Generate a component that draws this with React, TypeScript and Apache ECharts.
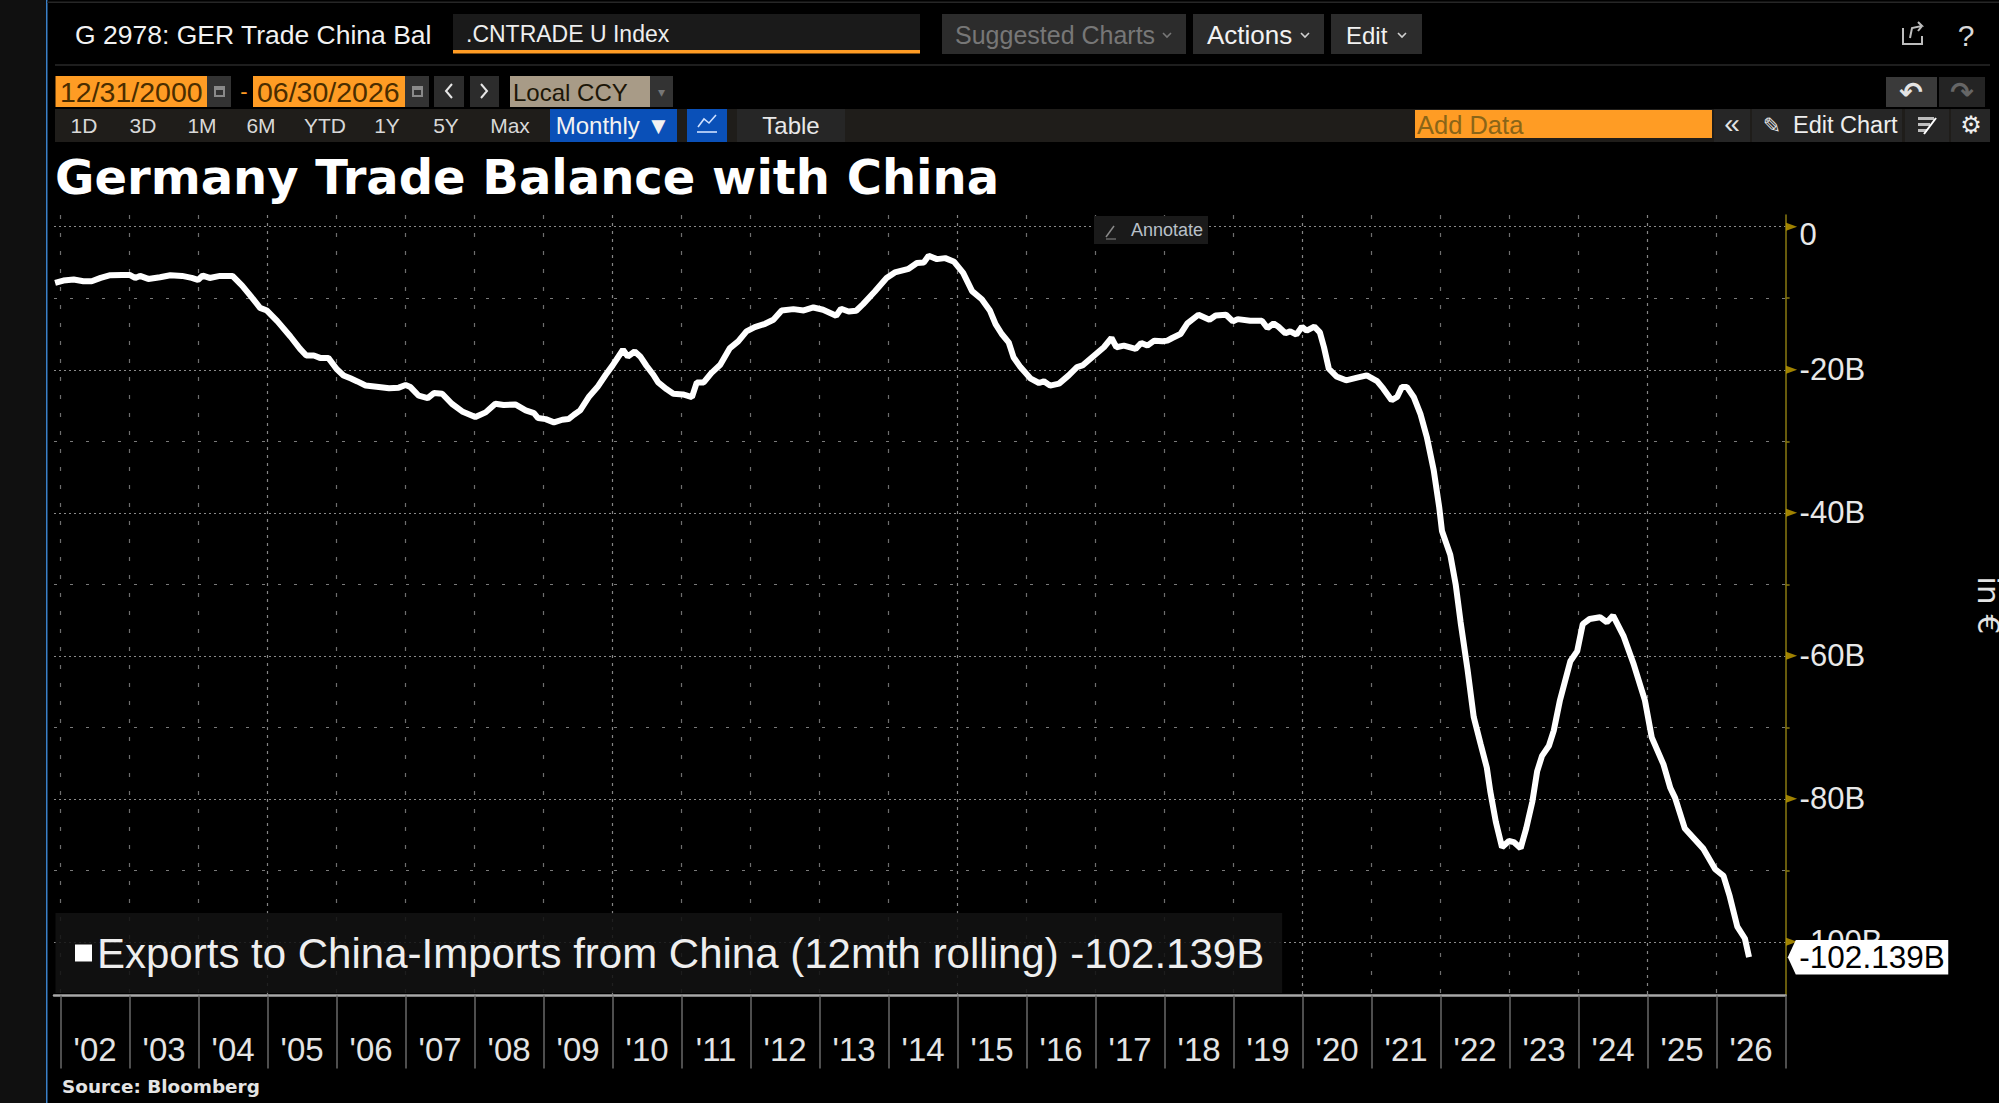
import React, { useEffect, useRef } from "react";
import * as echarts from "echarts";

const seriesName = "Exports to China-Imports from China (12mth rolling)";
const lastLabel = "-102.139B";

const years = [
  2001.92, 2002.04, 2002.19, 2002.33, 2002.45, 2002.58, 2002.72, 2002.89, 2003.0, 2003.08, 2003.15, 2003.27,
  2003.44, 2003.59, 2003.76, 2003.9, 2003.99, 2004.06, 2004.16, 2004.31, 2004.49, 2004.63, 2004.75, 2004.89,
  2004.99, 2005.14, 2005.33, 2005.47, 2005.56, 2005.67, 2005.76, 2005.88, 2006.0, 2006.1, 2006.2, 2006.3,
  2006.42, 2006.61, 2006.76, 2006.9, 2007.0, 2007.07, 2007.19, 2007.32, 2007.41, 2007.53, 2007.67, 2007.82,
  2008.01, 2008.16, 2008.3, 2008.42, 2008.59, 2008.74, 2008.86, 2008.92, 2009.03, 2009.15, 2009.27, 2009.36,
  2009.44, 2009.53, 2009.66, 2009.78, 2009.9, 2010.0, 2010.15, 2010.22, 2010.32, 2010.4, 2010.49, 2010.59,
  2010.66, 2010.78, 2010.88, 2011.02, 2011.15, 2011.22, 2011.32, 2011.43, 2011.56, 2011.7, 2011.82, 2011.94,
  2012.06, 2012.21, 2012.33, 2012.45, 2012.62, 2012.77, 2012.91, 2013.05, 2013.24, 2013.31, 2013.42, 2013.53,
  2013.63, 2013.8, 2013.97, 2014.09, 2014.29, 2014.41, 2014.51, 2014.58, 2014.7, 2014.82, 2014.95, 2015.08,
  2015.21, 2015.35, 2015.47, 2015.55, 2015.64, 2015.74, 2015.81, 2015.91, 2016.06, 2016.18, 2016.25, 2016.34,
  2016.47, 2016.61, 2016.73, 2016.81, 2016.95, 2017.12, 2017.23, 2017.3, 2017.41, 2017.58, 2017.66, 2017.75,
  2017.85, 2017.97, 2018.04, 2018.11, 2018.23, 2018.33, 2018.49, 2018.65, 2018.74, 2018.89, 2018.99, 2019.06,
  2019.24, 2019.41, 2019.49, 2019.58, 2019.65, 2019.75, 2019.82, 2019.91, 2019.99, 2020.06, 2020.17, 2020.25,
  2020.31, 2020.38, 2020.49, 2020.63, 2020.79, 2020.93, 2021.08, 2021.17, 2021.29, 2021.37, 2021.44, 2021.51,
  2021.61, 2021.71, 2021.8, 2021.9, 2021.98, 2022.02, 2022.14, 2022.22, 2022.29, 2022.39, 2022.48, 2022.58,
  2022.67, 2022.72, 2022.8, 2022.89, 2022.99, 2023.06, 2023.16, 2023.24, 2023.33, 2023.4, 2023.47, 2023.57,
  2023.64, 2023.73, 2023.88, 2023.98, 2024.06, 2024.16, 2024.31, 2024.41, 2024.5, 2024.65, 2024.8, 2024.96,
  2025.06, 2025.23, 2025.33, 2025.4, 2025.54, 2025.81, 2025.98, 2026.1, 2026.19, 2026.3, 2026.41, 2026.47,
];

const balance = [
  -7.86, -7.53, -7.39, -7.62, -7.62, -7.16, -6.78, -6.74, -6.74, -7.16, -6.88, -7.3,
  -7.06, -6.78, -6.88, -7.16, -7.44, -6.83, -7.16, -6.88, -6.88, -8.23, -9.63, -11.35,
  -11.72, -13.2, -15.35, -17.08, -18.0, -18.0, -18.34, -18.34, -19.9, -20.8, -21.2, -21.63,
  -22.2, -22.42, -22.6, -22.5, -22.14, -22.42, -23.63, -23.96, -23.26, -23.35, -24.75, -25.82,
  -26.62, -25.96, -24.75, -24.94, -24.85, -25.68, -26.06, -26.76, -26.9, -27.36, -26.99, -26.9,
  -26.29, -25.68, -23.73, -22.42, -20.7, -19.39, -17.2, -18.14, -17.44, -18.14, -19.44, -20.7,
  -21.77, -22.7, -23.36, -23.45, -23.82, -21.77, -21.77, -20.47, -19.3, -16.97, -16.04, -14.64,
  -14.04, -13.57, -13.0, -11.7, -11.52, -11.7, -11.29, -11.61, -12.45, -11.47, -11.85, -11.75,
  -10.82, -9.05, -7.18, -6.39, -5.88, -5.08, -4.99, -4.06, -4.53, -4.39, -4.9, -6.45,
  -9.0, -10.14, -11.76, -13.61, -15.0, -16.16, -18.24, -19.63, -21.25, -21.85, -21.62, -22.22,
  -21.94, -20.79, -19.63, -19.4, -18.24, -16.85, -15.56, -16.85, -16.62, -17.08, -16.25, -16.62,
  -15.93, -16.02, -15.93, -15.56, -15.0, -13.52, -12.31, -13.01, -12.41, -12.31, -13.24, -12.92,
  -13.15, -13.15, -14.17, -13.52, -13.98, -14.9, -14.63, -15.09, -13.98, -14.54, -13.98, -14.77,
  -16.85, -19.86, -20.93, -21.48, -21.11, -20.79, -21.58, -22.64, -24.26, -23.8, -22.4, -22.4,
  -23.8, -26.25, -29.4, -34.04, -39.24, -42.55, -45.86, -50.1, -55.3, -61.9, -68.56, -72.34,
  -75.65, -78.96, -83.2, -86.76, -85.9, -86.05, -86.9, -84.16, -80.38, -76.12, -74.0, -72.58,
  -70.45, -66.2, -60.76, -59.34, -55.56, -54.85, -54.6, -55.3, -54.37, -57.2, -61.23, -66.19,
  -71.4, -75.18, -78.49, -79.9, -84.16, -87.0, -89.84, -90.78, -93.62, -97.87, -99.53, -102.139,
];

const yearTicks = [2002, 2003, 2004, 2005, 2006, 2007, 2008, 2009, 2010, 2011, 2012, 2013, 2014, 2015, 2016, 2017, 2018, 2019, 2020, 2021, 2022, 2023, 2024, 2025, 2026, 2027];
const yearLabels = [2002.5, 2003.5, 2004.5, 2005.5, 2006.5, 2007.5, 2008.5, 2009.5, 2010.5, 2011.5, 2012.5, 2013.5, 2014.5, 2015.5, 2016.5, 2017.5, 2018.5, 2019.5, 2020.5, 2021.5, 2022.5, 2023.5, 2024.5, 2025.5, 2026.5];
const fiveYearTicks = [2005, 2010, 2015, 2020, 2025];
const minorYearTicks = [2002, 2003, 2004, 2006, 2007, 2008, 2009, 2011, 2012, 2013, 2014, 2016, 2017, 2018, 2019, 2021, 2022, 2023, 2024, 2026];
const yMajor = [-100, -80, -60, -40, -20, 0];
const yMinor = [-90, -70, -50, -30, -10];

const SANS = '"Liberation Sans", Arial, sans-serif';
const ORANGE = "#ff9c24";

const rect = (x: number, y: number, w: number, h: number, fill: string, z = 1) => ({
  type: "rect", z, silent: true, shape: { x, y, width: w, height: h }, style: { fill },
});
const txt = (x: number, y: number, text: string, size: number, fill: string, align = "left", extra: any = {}, z = 5) => ({
  type: "text", z, silent: true, x, y,
  style: { text, fill, font: `${extra.weight || "normal"} ${size}px ${extra.family || SANS}`, textAlign: align, textVerticalAlign: "middle" },
});
const poly = (points: number[][], stroke: string, lineWidth = 1.5, z = 6) => ({
  type: "polyline", z, silent: true, shape: { points }, style: { stroke, lineWidth, fill: "none" },
});
const chevron = (cx: number, cy: number, c: string) => poly([[cx - 4, cy - 2], [cx, cy + 2], [cx + 4, cy - 2]], c, 1.6);

const calendar = (x: number) => [
  rect(x, 76, 24, 31, "#333333", 2),
  rect(x + 7, 86, 11, 11, "#8a8a8a", 3),
  rect(x + 9, 90, 7, 5, "#333333", 4),
];

const uiGraphics: any[] = [
  rect(0, 0, 46, 1103, "#101010", 0),
  rect(46, 0, 1.5, 1103, "#3a80c8", 1),
  rect(47, 1.5, 1952, 1.5, "#262626", 1),
  rect(55, 64, 1935, 2, "#1e1e1e", 1),
  txt(75, 35, "G 2978: GER Trade China Bal", 26.5, "#f2f2f2"),
  rect(453, 14, 467, 36, "#1a1a1a"),
  rect(453, 50, 467, 3.5, ORANGE),
  txt(466, 34, ".CNTRADE U Index", 23, "#eeeeee"),
  rect(942, 14, 244, 40, "#2c2c2c"),
  txt(955, 35, "Suggested Charts", 25, "#777777"),
  chevron(1167, 35, "#777777"),
  rect(1193, 14, 131, 40, "#2c2c2c"),
  txt(1207, 35, "Actions", 26, "#f2f2f2"),
  chevron(1305, 35, "#d0d0d0"),
  rect(1331, 14, 91, 40, "#2c2c2c"),
  txt(1346, 35, "Edit", 24, "#f2f2f2"),
  chevron(1402, 35, "#d0d0d0"),
  poly([[1903, 28], [1903, 44], [1922, 44], [1922, 36]], "#bdbdbd", 2),
  poly([[1910, 38], [1912, 28], [1922, 26], [1918, 22], [1922, 26], [1918, 31]], "#bdbdbd", 2),
  txt(1966, 35, "?", 30, "#d8d8d8", "center"),

  rect(55.5, 76, 152, 31, ORANGE),
  txt(60, 92, "12/31/2000", 28.5, "#4a2d00"),
  ...calendar(207),
  txt(244, 91, "-", 22, ORANGE, "center"),
  rect(253, 76, 152, 31, ORANGE),
  txt(257, 92, "06/30/2026", 28.5, "#4a2d00"),
  ...calendar(405),
  rect(434, 76, 30, 31, "#2c2c2c"),
  poly([[452, 84], [446, 91], [452, 98]], "#e6e6e6", 2),
  rect(470, 76, 29, 31, "#2c2c2c"),
  poly([[481, 84], [487, 91], [481, 98]], "#e6e6e6", 2),
  rect(510, 76, 140, 31, "#a89b87"),
  txt(513, 92, "Local CCY", 24, "#1c1608"),
  rect(650, 76, 23, 31, "#333333"),
  txt(661, 92, "▾", 14, "#777777", "center"),
  rect(1886, 77, 51, 30, "#3a3a3a"),
  txt(1911, 92, "↶", 28, "#e4e4e4", "center", { family: '"DejaVu Sans"', weight: "bold" }),
  rect(1939, 77, 46, 30, "#242424"),
  txt(1962, 92, "↷", 28, "#666666", "center", { family: '"DejaVu Sans"', weight: "bold" }),

  rect(55, 109, 1935, 33, "#1f1d1a"),
  ...[["1D", 84], ["3D", 143], ["1M", 202], ["6M", 261], ["YTD", 325], ["1Y", 387], ["5Y", 446], ["Max", 510]].map(([t, x]) =>
    txt(x as number, 125, t as string, 21, "#d8d8d8", "center")),
  rect(550, 109, 127, 33, "#0a50b8"),
  txt(613, 125, "Monthly ▼", 24, "#f2f2f2", "center", { family: '"Liberation Sans", "DejaVu Sans"' }),
  rect(687, 109, 40, 33, "#0a50b8"),
  poly([[698, 127], [704, 119], [709, 123], [716, 115]], "#cfe0ff", 1.6),
  poly([[697, 132], [717, 132]], "#cfe0ff", 1.6),
  rect(737, 109, 108, 33, "#262626"),
  txt(791, 125, "Table", 24, "#e8e8e8", "center"),
  rect(1415, 110, 297, 28, ORANGE),
  txt(1417, 125, "Add Data", 25.5, "#8a6518"),
  rect(1714, 109, 36, 33, "#262626"),
  txt(1732, 123, "«", 28, "#e4e4e4", "center"),
  rect(1752, 109, 150, 33, "#262626"),
  txt(1772, 125, "✎", 22, "#e4e4e4", "center", { family: '"DejaVu Sans"' }),
  txt(1793, 125, "Edit Chart", 23.5, "#eeeeee"),
  rect(1905, 109, 44, 33, "#262626"),
  rect(1918, 117, 16, 3, "#bdbdbd", 3),
  rect(1918, 123, 12, 3, "#bdbdbd", 3),
  rect(1918, 129, 9, 3, "#bdbdbd", 3),
  poly([[1924, 134], [1936, 118]], "#ffffff", 2),
  rect(1951, 109, 39, 33, "#262626"),
  txt(1971, 125, "⚙", 24, "#eeeeee", "center", { family: '"DejaVu Sans"' }),

  rect(1094, 216, 114, 28, "#1a1a1a", 20),
  poly([[1106, 237], [1114, 226]], "#8a8a8a", 1.5, 21),
  poly([[1106, 239], [1116, 239]], "#8a8a8a", 1, 21),
  txt(1131, 230, "Annotate", 18, "#b8c0c8", "left", {}, 21),

  txt(62, 1086, "Source: Bloomberg", 18.4, "#e4e4e4", "left", { family: '"DejaVu Sans"', weight: "bold" }),
];

const hiddenX = (values: number[], dash: number[], color: string, width = 1.2) => ({
  type: "value", min: 2001.904, max: 2027, position: "bottom",
  axisLine: { show: false }, axisLabel: { show: false },
  axisTick: { show: false, customValues: values },
  splitLine: { show: true, lineStyle: { color, width, type: dash } },
});
const hiddenY = (values: number[], dash: number[], color: string, width = 1.2) => ({
  type: "value", min: -107.5, max: 1.64, position: "right",
  axisLine: { show: false }, axisLabel: { show: false },
  axisTick: { show: false, customValues: values },
  splitLine: { show: true, lineStyle: { color, width, type: dash } },
});

export default function App() {
  const ref = useRef<HTMLDivElement>(null);
  useEffect(() => {
    document.body.style.margin = "0";
    document.body.style.background = "#000";
    const chart = echarts.init(ref.current!, undefined, { renderer: "svg" });
    chart.setOption({
      animation: false,
      backgroundColor: "#000000",
      title: {
        text: "Germany Trade Balance with China",
        left: 55, top: 152.5, padding: 0,
        textStyle: { color: "#ffffff", fontFamily: '"DejaVu Sans"', fontWeight: "bold", fontSize: 48 },
      },
      grid: { left: 54, top: 215, width: 1731.6, height: 780.5, containLabel: false, outerBoundsMode: "none" },
      legend: {
        data: [seriesName],
        left: 55.5, top: 913,
        icon: "rect", itemWidth: 17, itemHeight: 17,
        padding: [19, 18, 19, 19.5],
        backgroundColor: "rgba(18,18,18,0.88)",
        formatter: (n: string) => `${n} ${lastLabel}`,
        textStyle: { color: "#eeeeee", fontFamily: SANS, fontSize: 42 },
        z: 20,
      },
      xAxis: [
        {
          type: "value", min: 2001.904, max: 2027, position: "bottom",
          axisLine: { show: true, onZero: false, lineStyle: { color: "#a8a8a8", width: 2.5 } },
          axisTick: { show: true, length: 73, customValues: yearTicks, lineStyle: { color: "#686868", width: 1.5 } },
          axisLabel: {
            show: true, customValues: yearLabels, margin: 37,
            formatter: (v: number) => "'" + String(Math.floor(v)).slice(2),
            color: "#e4e4e4", fontFamily: SANS, fontSize: 33,
          },
          splitLine: { show: false },
        },
        hiddenX(minorYearTicks, [4, 14], "#6e6e6e"),
        hiddenX(fiveYearTicks, [3, 5], "#858585"),
      ],
      yAxis: [
        {
          type: "value", min: -107.5, max: 1.64, position: "right",
          name: "in €", nameLocation: "middle", nameRotate: -90, nameGap: 188,
          nameTextStyle: { color: "#e4e4e4", fontFamily: '"DejaVu Sans"', fontSize: 31 },
          axisLine: { show: true, lineStyle: { color: "#8a7a10", width: 1.5 } },
          axisTick: { show: true, length: 4, inside: false, customValues: yMinor, lineStyle: { color: "#8a7a10", width: 1.5 } },
          axisLabel: {
            show: true, customValues: yMajor, margin: 14,
            formatter: (v: number) => (v === 0 ? "{z|0}" : `${v}B`),
            color: "#e8e8e8", fontFamily: SANS, fontSize: 31,
            rich: { z: { padding: [16, 0, 0, 0], color: "#e8e8e8", fontFamily: SANS, fontSize: 31 } },
          },
          splitLine: { show: false },
        },
        hiddenY(yMajor, [2, 3], "#8a8a8a"),
        hiddenY(yMinor, [3, 13], "#7a7a7a"),
      ],
      graphic: { elements: uiGraphics },
      series: [
        {
          type: "scatter", xAxisIndex: 0, yAxisIndex: 0, silent: true, clip: false,
          symbol: "triangle", symbolRotate: -90, symbolSize: [8, 11], symbolOffset: [6, 0],
          itemStyle: { color: "#c8a300" },
          data: yMajor.map((v) => [2027, v]),
          z: 3,
        },
        {
          name: seriesName,
          type: "line", xAxisIndex: 0, yAxisIndex: 0, showSymbol: false, smooth: false, silent: true,
          lineStyle: { color: "#ffffff", width: 6 },
          itemStyle: { color: "#ffffff" },
          data: years.map((y, i) => [y, balance[i]]),
          z: 5,
          markPoint: {
            silent: true, animation: false,
            symbol: "path://M0 17.25 L8 0 L160.5 0 L160.5 34.5 L8 34.5 Z",
            symbolSize: [160.5, 34.5], symbolOffset: [119, 0], symbolKeepAspect: false,
            itemStyle: { color: "#ffffff" },
            label: {
              show: true, position: "inside", offset: [4, 0], formatter: lastLabel,
              color: "#000000", fontFamily: SANS, fontSize: 31.5,
            },
            data: [{ xAxis: years[years.length - 1], yAxis: balance[balance.length - 1] }],
          },
        },
      ],
    });
    return () => chart.dispose();
  }, []);
  return <div ref={ref} style={{ position: "absolute", left: 0, top: 0, width: 1999, height: 1103 }} />;
}
